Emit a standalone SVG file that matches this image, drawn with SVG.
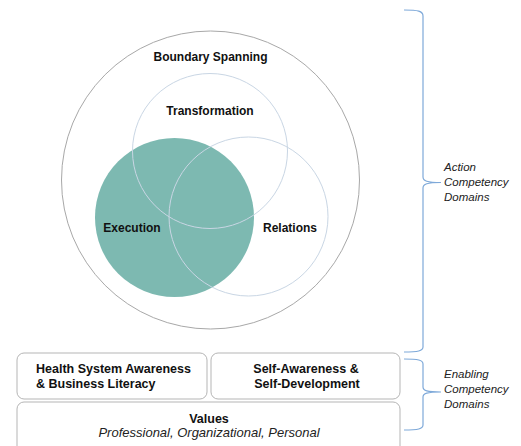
<svg xmlns="http://www.w3.org/2000/svg" width="521" height="446" viewBox="0 0 521 446">
<style>
.b{font-family:"Liberation Sans",Arial,sans-serif;font-weight:bold;font-size:12px;fill:#111;}
.bx{font-family:"Liberation Sans",Arial,sans-serif;font-weight:bold;font-size:12.5px;fill:#111;}
.it{font-family:"Liberation Sans",Arial,sans-serif;font-style:italic;font-size:11.5px;fill:#222;}
.iv{font-family:"Liberation Sans",Arial,sans-serif;font-style:italic;font-size:13px;fill:#222;}
.box{fill:#fff;stroke:#b5b5b5;stroke-width:1;}
.ring{fill:none;stroke:#c9d6e4;stroke-width:1;}
.brace{fill:none;stroke:#7ea9d9;stroke-width:1.2;}
</style>
<rect width="521" height="446" fill="#fff"/>
<g id="boundary-spanning">
<circle cx="210.5" cy="180" r="149" fill="#fff" stroke="#a8a8a8" stroke-width="1"/>
<text class="b" x="210.5" y="61" text-anchor="middle">Boundary Spanning</text>
</g>
<g id="execution">
<circle cx="174.5" cy="217.5" r="79.5" fill="#7db9b1"/>
<text class="b" x="132" y="231.5" text-anchor="middle">Execution</text>
</g>
<g id="transformation">
<circle class="ring" cx="210" cy="151" r="77.5"/>
<text class="b" x="210" y="114.5" text-anchor="middle">Transformation</text>
</g>
<g id="relations">
<circle class="ring" cx="248.5" cy="216.5" r="79.5"/>
<text class="b" x="290" y="231.5" text-anchor="middle">Relations</text>
</g>
<g id="health-system">
<rect class="box" x="17" y="353" width="190" height="46" rx="7"/>
<text class="bx" x="36" y="373">Health System Awareness</text>
<text class="bx" x="36" y="388">&amp; Business Literacy</text>
</g>
<g id="self-awareness">
<rect class="box" x="211" y="353" width="189" height="46" rx="7"/>
<text class="bx" x="306" y="373" text-anchor="middle">Self-Awareness &amp;</text>
<text class="bx" x="307" y="388" text-anchor="middle">Self-Development</text>
</g>
<g id="values">
<rect class="box" x="17" y="402" width="383" height="52" rx="7"/>
<text class="bx" x="209" y="423" text-anchor="middle">Values</text>
<text class="iv" x="209" y="437" text-anchor="middle">Professional, Organizational, Personal</text>
</g>
<g id="connectors">
<path class="brace" d="M404,10 C418,10 423,11 423,16 L423,177 C423,181 427,182.5 441,182.5 C427,182.5 423,184 423,188 L423,347 C423,351 418,352 404,352"/>
<path class="brace" d="M404,359 C418,359 423,360 423,364 L423,387 C423,390.5 427,392 441,392 C427,392 423,393.5 423,397 L423,425 C423,429 418,430 404,430"/>
</g>
<g id="action-label">
<text class="it" x="444" y="171">Action</text>
<text class="it" x="444" y="186">Competency</text>
<text class="it" x="444" y="201">Domains</text>
</g>
<g id="enabling-label">
<text class="it" x="444" y="378">Enabling</text>
<text class="it" x="444" y="393">Competency</text>
<text class="it" x="444" y="408">Domains</text>
</g>
</svg>
